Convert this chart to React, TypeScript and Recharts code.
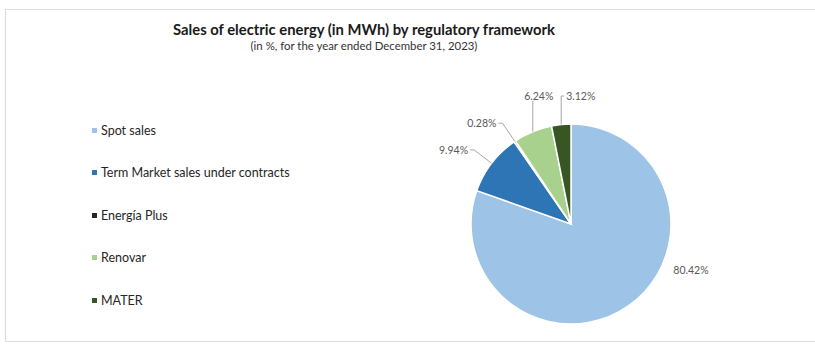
import { PieChart, Pie, Cell } from "recharts";

const categories = [
  "Spot sales",
  "Term Market sales under contracts",
  "Energía Plus",
  "Renovar",
  "MATER",
];
const shares = [80.42, 9.94, 0.28, 6.24, 3.12];
const colors = ["#9dc3e6", "#2e75b6", "#262626", "#a9d18e", "#375623"];

const data = categories.map((name, i) => ({ name, value: shares[i] }));

const FONT = "Lato, 'Open Sans', sans-serif";
const RAD = Math.PI / 180;

// Excel-style data labels with leader lines
function renderLabel(props: any) {
  const { cx, cy, outerRadius, midAngle, index, value } = props;
  const px = cx + outerRadius * Math.cos(-midAngle * RAD);
  const py = cy + outerRadius * Math.sin(-midAngle * RAD);
  const angle = ((midAngle % 360) + 360) % 360;
  const text = `${value.toFixed(2)}%`;
  const style = { fontFamily: FONT, fontSize: 10.5, fill: "#595959" };

  if (value > 50) {
    return (
      <text key={`lbl-${index}`} x={cx + outerRadius + 20} y={cy + outerRadius * 0.46} textAnchor="middle" dominantBaseline="central" style={style}>
        {text}
      </text>
    );
  }
  if (py < cy - outerRadius * 0.9) {
    const topY = cy - outerRadius - 28;
    const rightMost = angle < 100;
    return (
      <g key={`lbl-${index}`}>
        <polyline
          points={rightMost ? `${px},${py} ${px},${topY} ${px + 3},${topY}` : `${px},${py} ${px},${topY + 5}`}
          fill="none"
          stroke="#a6a6a6"
          strokeWidth={1}
        />
        <text
          x={rightMost ? px + 5 : px + 6}
          y={topY}
          textAnchor={rightMost ? "start" : "middle"}
          dominantBaseline="central"
          style={style}
        >
          {text}
        </text>
      </g>
    );
  }
  const qx = cx + (outerRadius + 22) * Math.cos(-midAngle * RAD);
  const qy = cy + (outerRadius + 22) * Math.sin(-midAngle * RAD);
  return (
    <g key={`lbl-${index}`}>
      <polyline points={`${px},${py} ${qx},${qy} ${qx - 4},${qy}`} fill="none" stroke="#a6a6a6" strokeWidth={1} />
      <text x={qx - 6} y={qy} textAnchor="end" dominantBaseline="central" style={style}>
        {text}
      </text>
    </g>
  );
}

function LegendList() {
  return (
    <div style={{ position: "absolute", left: 92, top: 109, fontFamily: FONT, fontSize: 12.5, color: "#262626" }}>
      {categories.map((c, i) => (
        <div key={c} style={{ height: 42.5, display: "flex", alignItems: "center" }}>
          <span style={{ width: 5, height: 5, background: colors[i], marginRight: 4, display: "inline-block" }} />
          <span>{c}</span>
        </div>
      ))}
    </div>
  );
}

export default function App() {
  return (
    <div style={{ position: "absolute", left: 0, top: 0, width: 815, height: 344, background: "#fff", overflow: "hidden" }}>
      <div
        style={{
          position: "absolute",
          left: 5,
          top: 9,
          width: 840,
          height: 333,
          border: "1px solid #dcdcdc",
          boxSizing: "border-box",
        }}
      />
      <div
        style={{
          position: "absolute",
          left: 0,
          top: 20,
          width: 728,
          textAlign: "center",
          fontFamily: FONT,
          fontWeight: 700,
          fontSize: 14.8,
          color: "#1a1a1a",
        }}
      >
        Sales of electric energy (in MWh) by regulatory framework
      </div>
      <div
        style={{
          position: "absolute",
          left: 0,
          top: 39,
          width: 728,
          textAlign: "center",
          fontFamily: FONT,
          fontSize: 11.4,
          color: "#333",
        }}
      >
        (in %, for the year ended December 31, 2023)
      </div>
      <PieChart width={815} height={344} margin={{ top: 0, right: 0, bottom: 0, left: 0 }} style={{ position: "absolute", left: 0, top: 0 }}>
        <Pie
          data={data}
          dataKey="value"
          nameKey="name"
          cx={571}
          cy={224}
          outerRadius={100}
          startAngle={90}
          endAngle={-270}
          stroke="#ffffff"
          strokeWidth={1.5}
          label={renderLabel}
          labelLine={false}
          isAnimationActive={false}
        >
          {data.map((d, i) => (
            <Cell key={d.name} fill={colors[i]} />
          ))}
        </Pie>
      </PieChart>
      <LegendList />
    </div>
  );
}
